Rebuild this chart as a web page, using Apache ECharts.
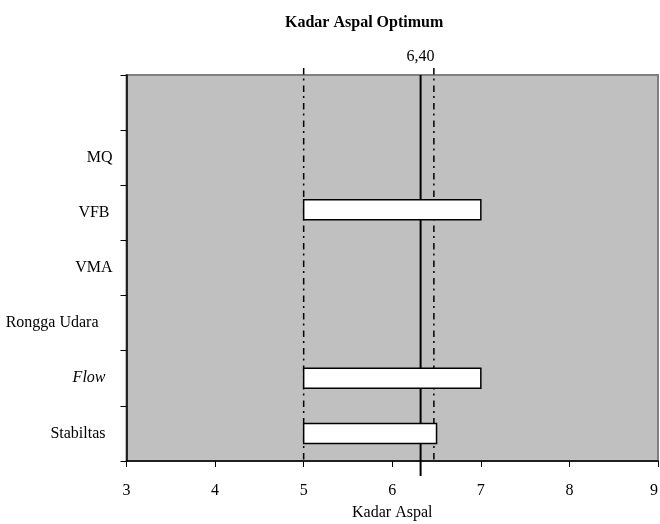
<!DOCTYPE html>
<html>
<head>
<meta charset="utf-8">
<script src="https://cdn.jsdelivr.net/npm/echarts@6/dist/echarts.min.js"></script>
<style>html,body{margin:0;padding:0;background:#fff}#c{width:660px;height:524px}</style>
</head>
<body>
<div id="c"></div>
<script>
// Data
const categories = ['Stabiltas', 'Flow', 'Rongga Udara', 'VMA', 'VFB', 'MQ', ''];
const barStart = [5, 5, null, null, 5, null, null];
const barEnd = [6.5, 7, null, null, 7, null, null];
const optimumValue = 6.32;
const optimumLabel = '6,40';
const rangeLines = [5, 6.47];
const xTicks = { min: 3, max: 9, interval: 1 };
const titleText = 'Kadar Aspal Optimum';
const xAxisName = 'Kadar Aspal';

// Styles
const FONT = '"Liberation Serif", "Times New Roman", serif';
const FS = 16;
const labelPad = { 'Rongga Udara': 14, 'Flow': 7, 'Stabiltas': 7, 'VFB': 3, 'VMA': 0, 'MQ': 0, '': 0 };
const barNudge = { 'VFB': -3 };

const chart = echarts.init(document.getElementById('c'), null, { renderer: 'canvas' });

// Table for the single custom series: lines first, then bars (drawn on top)
// columns: x0, x1, categoryIndex, kind (0 = dash line, 1 = solid line, 2 = bar)
const table = [];
rangeLines.forEach(v => table.push([v, v, 0, 0]));
table.push([optimumValue, optimumValue, 0, 1]);
categories.forEach((c, i) => {
  if (barStart[i] != null && barEnd[i] != null) table.push([barStart[i], barEnd[i], i, 2]);
});

chart.setOption({
  animation: false,
  textStyle: { fontFamily: FONT },
  title: {
    text: titleText,
    left: 280, top: 10,
    textStyle: { fontFamily: FONT, fontWeight: 'bold', fontSize: 16, color: '#000' }
  },
  grid: {
    left: 126.5, right: 2, top: 75, bottom: 63,
    outerBoundsMode: 'none', containLabel: false,
    show: true, backgroundColor: '#C0C0C0', borderColor: '#808080', borderWidth: 2
  },
  xAxis: {
    type: 'value', min: xTicks.min, max: xTicks.max, interval: xTicks.interval,
    name: xAxisName, nameLocation: 'middle', nameGap: 44,
    nameTextStyle: { fontFamily: FONT, fontSize: FS, color: '#000' },
    axisLine: { show: true, lineStyle: { color: '#000', width: 1.5 } },
    axisTick: { show: true, length: 6, inside: false, lineStyle: { color: '#000', width: 1 } },
    axisLabel: { fontFamily: FONT, fontSize: FS, color: '#000', margin: 22, alignMaxLabel: 'right' },
    splitLine: { show: false }
  },
  yAxis: {
    type: 'category', data: categories,
    axisLine: { show: true, lineStyle: { color: '#000', width: 1.5 } },
    axisTick: { show: true, length: 6, inside: false, lineStyle: { color: '#000', width: 1 } },
    axisLabel: {
      margin: 14, color: '#000', fontFamily: FONT, fontSize: FS,
      formatter: function (v) {
        const p = labelPad[v] || 0;
        if (v === 'Flow') return '{i|' + v + '}{p' + p + '|}';
        return '{n|' + v + '}{p' + p + '|}';
      },
      rich: {
        n: { fontFamily: FONT, fontSize: FS, color: '#000' },
        i: { fontFamily: FONT, fontSize: FS, color: '#000', fontStyle: 'italic' },
        p0: { width: 0 }, p3: { width: 3 }, p7: { width: 7 }, p14: { width: 14 }
      }
    },
    splitLine: { show: false }
  },
  series: [
    {
      type: 'custom', silent: true, clip: false,
      data: table,
      encode: { x: [0, 1], y: 2 },
      renderItem: function (params, api) {
        const kind = api.value(3);
        const cs = params.coordSys;
        const top = cs.y, bottom = cs.y + cs.height;
        if (kind === 2) {
          const cat = api.value(2);
          const p0 = api.coord([api.value(0), cat]);
          const p1 = api.coord([api.value(1), cat]);
          const h = 20;
          const nudge = barNudge[categories[cat]] || 0;
          return {
            type: 'rect', z2: 100,
            shape: { x: p0[0], y: p0[1] - h / 2 + nudge, width: p1[0] - p0[0], height: h },
            style: { fill: '#ffffff', stroke: '#000', lineWidth: 1.5, opacity: 1 }
          };
        }
        const x = api.coord([api.value(0), 0])[0];
        if (kind === 1) {
          return {
            type: 'group', children: [
              { type: 'line', z2: 1, shape: { x1: x, y1: top, x2: x, y2: bottom + 15 },
                style: { stroke: '#000', lineWidth: 2 } },
              { type: 'text', z2: 1, x: x, y: top - 10,
                style: { text: optimumLabel, fill: '#000', font: FS + 'px ' + FONT,
                  textAlign: 'center', textVerticalAlign: 'bottom' } }
            ]
          };
        }
        return { type: 'line', z2: 1, shape: { x1: x, y1: top - 7, x2: x, y2: bottom },
          style: { stroke: '#000', lineWidth: 1.5, lineDash: [6.5, 4, 2, 5] } };
      }
    }
  ]
});
</script>
</body>
</html>
